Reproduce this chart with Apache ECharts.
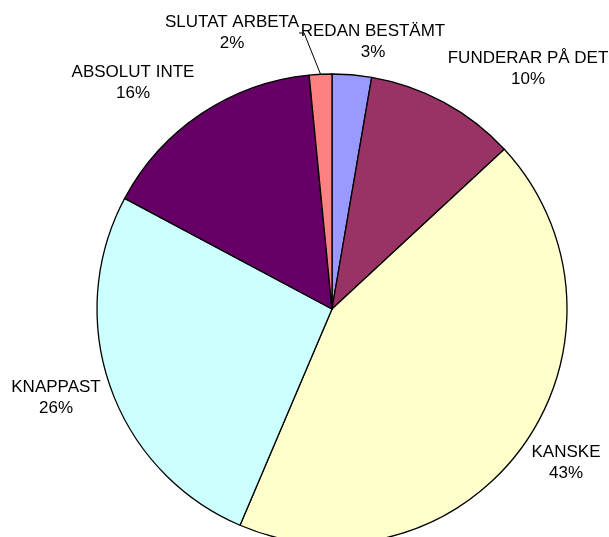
<!DOCTYPE html>
<html>
<head>
<meta charset="utf-8">
<script src="https://cdn.jsdelivr.net/npm/echarts@6/dist/echarts.min.js"></script>
<style>
  html, body { margin: 0; padding: 0; background: #fff; }
  #app { width: 609px; height: 537px; }
</style>
</head>
<body>
<div id="app"></div>
<script>
// answers, clockwise from 12 o'clock
const categories = ['REDAN BESTÄMT', 'FUNDERAR PÅ DET', 'KANSKE', 'KNAPPAST', 'ABSOLUT INTE', 'SLUTAT ARBETA'];
const shares = [2.7, 10.4, 43.3, 26.4, 15.65, 1.55];
const colors = ['#9999FF', '#993366', '#FFFFCC', '#CCFFFF', '#660066', '#FF8080'];

// where excel put each label (centre of the text block)
const labelSpots = [
  [373, 42],
  [528, 69],
  [566, 463],
  [56, 398],
  [133, 83],
  [232, 33],
];

const data = categories.map((name, i) => ({
  name,
  value: shares[i],
  itemStyle: { color: colors[i] },
  labelLine: { show: i === 5 },
}));

const eChart = echarts.init(document.getElementById('app'));

const option = {
  backgroundColor: '#fff',
  animation: false,
  series: [
    {
      type: 'pie',
      center: [332, 309],
      radius: 235,
      startAngle: 90,
      clockwise: true,
      percentPrecision: 0,
      data: data,
      itemStyle: {
        borderColor: '#000',
        borderWidth: 1.3,
      },
      label: {
        show: true,
        position: 'outside',
        formatter: '{b}\n{d}%',
        fontFamily: 'Liberation Sans, Arial, sans-serif',
        fontSize: 17,
        lineHeight: 21,
        color: '#000',
        align: 'center',
        overflow: 'none',
        edgeDistance: 0,
      },
      labelLine: {
        length: 5,
        length2: 5,
        lineStyle: { color: '#000', width: 1 },
      },
      labelLayout: function (params) {
        const p = labelSpots[params.dataIndex];
        return {
          x: p[0],
          y: p[1],
          align: 'center',
          verticalAlign: 'middle',
        };
      },
      emphasis: { disabled: true },
    },
  ],
};
eChart.setOption(option);
</script>
</body>
</html>
